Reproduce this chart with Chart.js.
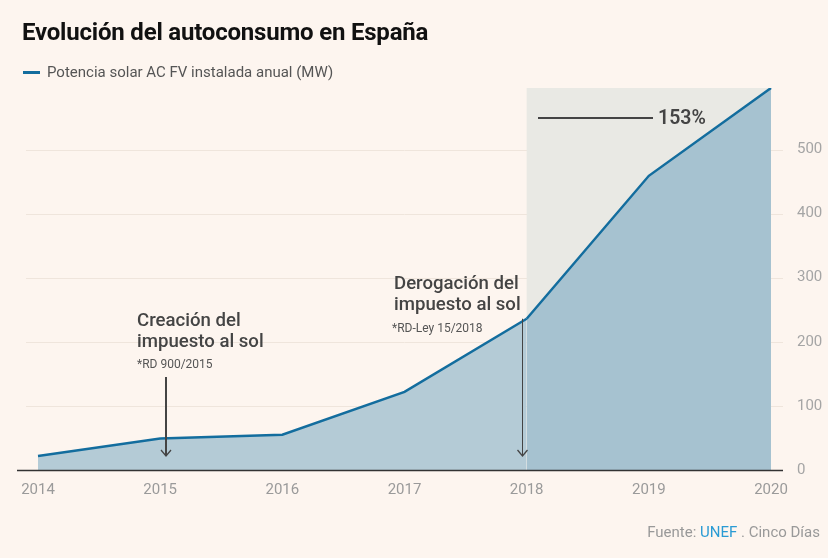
<!DOCTYPE html>
<html>
<head>
<meta charset="utf-8">
<script src="https://cdn.jsdelivr.net/npm/chart.js@4.4.1/dist/chart.umd.min.js"></script>
<style>
  html, body { margin:0; padding:0; background:#fdf5ef; }
  #wrap { position:relative; width:828px; height:558px; overflow:hidden; font-family:Roboto, "Liberation Sans", sans-serif; }
  canvas { position:absolute; left:0; top:0; }
  .t { position:absolute; white-space:nowrap; }
  #title { left:22px; top:18px; font-size:24px; font-weight:700; color:#111; letter-spacing:-0.2px; }
  #legend { left:23px; top:63px; font-size:15px; color:#555; }
  #legend span.sw { display:inline-block; width:17px; height:3px; background:#136d9e; vertical-align:middle; margin-right:7px; position:relative; top:-1px; }
  .ann { font-size:18.6px; font-weight:500; color:#444; line-height:21px; }
  .note { font-size:12px; color:#555; }
  #src { right:8px; top:523px; font-size:15px; color:#999; }
  #src b { font-weight:400; color:#2a9bd4; }
</style>
</head>
<body>
<div id="wrap">
  <canvas id="c" width="828" height="558"></canvas>
  <div class="t" id="title">Evolución del autoconsumo en España</div>
  <div class="t" id="legend"><span class="sw"></span>Potencia solar AC FV instalada anual (MW)</div>
  <div class="t ann" style="left:137px;top:310px;">Creación del<br>impuesto al sol</div>
  <div class="t note" style="left:137px;top:357px;">*RD 900/2015</div>
  <div class="t ann" style="left:394px;top:273px;">Derogación del<br>impuesto al sol</div>
  <div class="t note" style="left:392px;top:321px;">*RD-Ley 15/2018</div>
  <div class="t ann" style="left:658px;top:107px;font-weight:600;font-size:19.5px;">153%</div>
  <div class="t" id="src">Fuente: <b>UNEF</b> . Cinco Días</div>
</div>
<script>
const years = ['2014','2015','2016','2017','2018','2019','2020'];
const installedMW = [22, 49, 55, 122, 236, 459, 596];
const yTicks = [0, 100, 200, 300, 400, 500];
const shadeFrom = '2018';
const shadeTo = '2020';

const lineColor = '#136d9e';
const fillLeft = '#b4cbd6';
const fillRight = '#a6c2d0';
const shadeIdx = years.indexOf(shadeFrom);

const decor = {
  id: 'decor',
  beforeDatasetsDraw(chart) {
    const {ctx, chartArea: a, scales: {x, y}} = chart;
    ctx.save();
    ctx.strokeStyle = '#efe5dc';
    ctx.lineWidth = 1;
    yTicks.forEach(v => {
      if (v === 0) return;
      const py = Math.round(y.getPixelForValue(v)) + 0.5;
      ctx.beginPath(); ctx.moveTo(a.left - 12, py); ctx.lineTo(a.right + 12, py); ctx.stroke();
    });
    const x0 = x.getPixelForValue(years.indexOf(shadeFrom));
    const x1 = x.getPixelForValue(years.indexOf(shadeTo));
    ctx.fillStyle = '#e9e9e4';
    ctx.fillRect(x0, a.top, x1 - x0, y.getPixelForValue(0) - a.top);
    ctx.restore();
  },
  afterDatasetsDraw(chart) {
    const {ctx, chartArea: a, scales: {x, y}} = chart;
    ctx.save();
    const y0 = Math.round(y.getPixelForValue(0)) + 0.5;
    ctx.strokeStyle = '#333';
    ctx.lineWidth = 1.5;
    ctx.beginPath(); ctx.moveTo(17, y0); ctx.lineTo(a.right + 12, y0); ctx.stroke();
    function arrow(px, top, bottom, w) {
      ctx.strokeStyle = '#444';
      ctx.lineWidth = w;
      ctx.beginPath(); ctx.moveTo(px, top); ctx.lineTo(px, bottom); ctx.stroke();
      ctx.lineWidth = 1.3;
      ctx.beginPath(); ctx.moveTo(px - 5, bottom - 6); ctx.lineTo(px, bottom); ctx.lineTo(px + 5, bottom - 6); ctx.stroke();
    }
    const ab = y.getPixelForValue(0) - 14;
    arrow(Math.round(x.getPixelForValue(1)) + 6, 377, ab, 2);
    arrow(Math.round(x.getPixelForValue(4)) - 4.5, y.getPixelForValue(installedMW[4]), ab, 1);
    ctx.strokeStyle = '#444';
    ctx.lineWidth = 2;
    ctx.beginPath(); ctx.moveTo(538, 118); ctx.lineTo(653, 118); ctx.stroke();
    ctx.restore();
  }
};

new Chart(document.getElementById('c'), {
  type: 'line',
  data: {
    labels: years,
    datasets: [{
      data: installedMW,
      borderColor: lineColor,
      borderWidth: 2.5,
      pointRadius: 0,
      tension: 0,
      fill: 'origin',
      backgroundColor: fillLeft,
      segment: {
        backgroundColor: c => c.p0DataIndex >= shadeIdx ? fillRight : fillLeft
      }
    }]
  },
  options: {
    responsive: false,
    animation: false,
    layout: { padding: { left: 38, top: 88, right: 0, bottom: 0 } },
    plugins: { legend: { display: false }, tooltip: { enabled: false } },
    scales: {
      x: {
        offset: false,
        grid: { display: false },
        border: { display: false },
        ticks: { color: '#9a9a9a', font: { family: 'Roboto', size: 15 }, padding: 3, maxRotation: 0 },
        afterFit: s => { s.height = 88; }
      },
      y: {
        position: 'right',
        min: 0,
        max: 596,
        grid: { display: false },
        border: { display: false },
        afterBuildTicks: s => { s.ticks = yTicks.map(v => ({ value: v })); },
        ticks: { color: '#a5a5a5', font: { family: 'Roboto', size: 15 }, padding: 18 },
        afterFit: s => { s.width = 57; }
      }
    }
  },
  plugins: [decor]
});
</script>
</body>
</html>
